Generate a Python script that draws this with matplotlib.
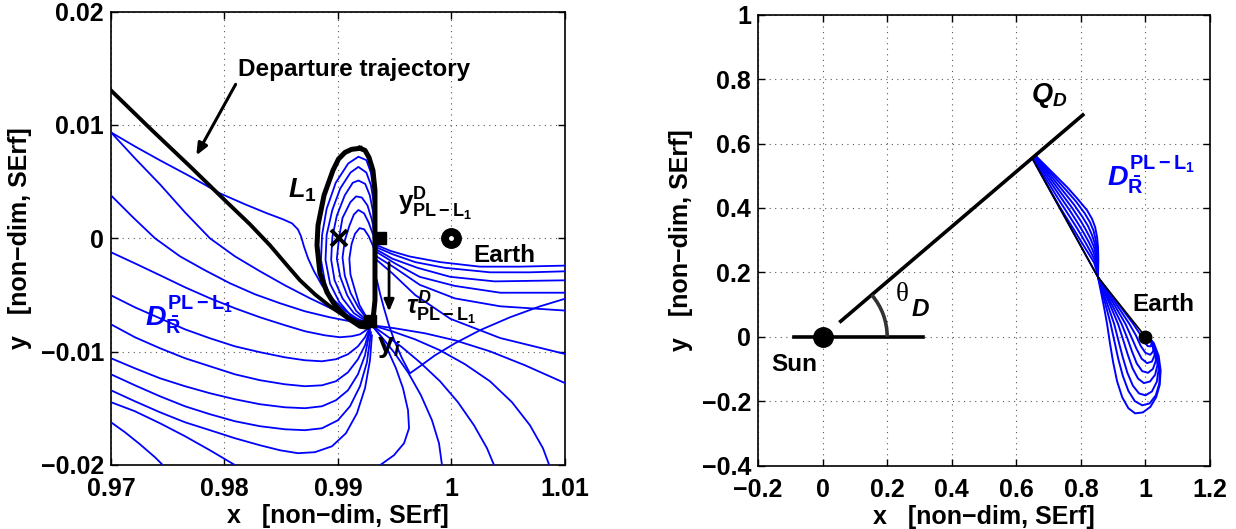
import matplotlib
matplotlib.use("Agg")
import matplotlib.pyplot as plt
from matplotlib.patches import Arc

# ---------------- left panel data (x, y in non-dim SErf) ----------------
left_xticks = [0.97, 0.98, 0.99, 1.00, 1.01]
left_xlabels = ["0.97", "0.98", "0.99", "1", "1.01"]
left_yticks = [-0.02, -0.01, 0.0, 0.01, 0.02]
left_ylabels = ["\u22120.02", "\u22120.01", "0", "0.01", "0.02"]

orbit_x = [0.99194, 0.99120, 0.99062, 0.99005, 0.98956, 0.98877, 0.98824, 0.98815, 0.98841,
           0.98903, 0.98973, 0.99088, 0.99194, 0.99264, 0.99308, 0.99326, 0.99326, 0.99326,
           0.99326, 0.99308, 0.99273, 0.99238, 0.99194]
orbit_y = [0.00794, 0.00785, 0.00758, 0.00700, 0.0060, 0.00379, 0.00115, -0.00062, -0.00309,
           -0.00476, -0.00591, -0.00705, -0.00776, -0.00785, -0.00723, -0.00547, -0.00194,
           0.00159, 0.00423, 0.0060, 0.00714, 0.00776, 0.00794]

dep_x = [0.97000, 0.97344, 0.97696, 0.98004, 0.98225, 0.98401, 0.98551, 0.98665, 0.98797,
         0.98929, 0.99062, 0.99176, 0.99282]
dep_y = [0.01305, 0.00970, 0.00635, 0.00335, 0.00123, -0.00062, -0.00238, -0.00370, -0.00494,
         -0.00600, -0.00688, -0.00741, -0.00741]

# nested loops inside the orbit, continuing out towards Earth
inner_loops = [
    ([0.9926, 0.9911, 0.9897, 0.9889, 0.9885, 0.9886, 0.9890, 0.9898, 0.9909, 0.9918, 0.9925,
      0.9929, 0.9932, 0.9933, 0.9934, 0.9946, 0.9963, 0.9990, 1.0025, 1.0060, 1.0104],
     [-0.0075, -0.0071, -0.0059, -0.0041, -0.0019, 0.0003, 0.0026, 0.0049, 0.0066, 0.0072, 0.0069,
      0.0058, 0.0038, 0.0011, -0.0006, -0.0011, -0.0016, -0.0021, -0.0025, -0.0025, -0.0024]),
    ([0.9926, 0.9912, 0.9901, 0.9893, 0.9889, 0.9890, 0.9895, 0.9902, 0.9911, 0.9918, 0.9925,
      0.9929, 0.9932, 0.9933, 0.9934, 0.9948, 0.9968, 0.9994, 1.0034, 1.0069, 1.0104],
     [-0.0075, -0.0069, -0.0056, -0.0040, -0.0019, 0.0003, 0.0025, 0.0044, 0.0058, 0.0063, 0.0058,
      0.0047, 0.0029, 0.0007, -0.0008, -0.0014, -0.0021, -0.0026, -0.0030, -0.0030, -0.0029]),
    ([0.9926, 0.9914, 0.9904, 0.9897, 0.9894, 0.9895, 0.9899, 0.9906, 0.9913, 0.9918, 0.9924,
      0.9928, 0.9931, 0.9933, 0.9934, 0.9948, 0.9970, 0.9999, 1.0038, 1.0104],
     [-0.0074, -0.0066, -0.0053, -0.0037, -0.0019, 0.0001, 0.0020, 0.0038, 0.0049, 0.0051, 0.0048,
      0.0038, 0.0023, 0.0003, -0.0010, -0.0018, -0.0026, -0.0034, -0.0038, -0.0037]),
    ([0.9926, 0.9916, 0.9908, 0.9902, 0.9899, 0.9901, 0.9904, 0.9911, 0.9916, 0.9921, 0.9926,
      0.9930, 0.9933, 0.9934, 0.9950, 0.9972, 1.0003, 1.0043, 1.0104],
     [-0.0073, -0.0064, -0.0050, -0.0034, -0.0018, 0.0001, 0.0018, 0.0032, 0.0037, 0.0036, 0.0029,
      0.0016, 0.0000, -0.0012, -0.0022, -0.0034, -0.0042, -0.0048, -0.0048]),
    ([0.9926, 0.9918, 0.9911, 0.9906, 0.9904, 0.9906, 0.9910, 0.9914, 0.9918, 0.9923, 0.9927,
      0.9931, 0.9933, 0.9934, 0.9950, 0.9972, 1.0003, 1.0043, 1.0104],
     [-0.0072, -0.0061, -0.0048, -0.0033, -0.0017, -0.0002, 0.0011, 0.0021, 0.0025, 0.0022, 0.0014,
      0.0003, -0.0009, -0.0016, -0.0026, -0.0041, -0.0053, -0.0060, -0.0064]),
    ([0.9926, 0.9919, 0.9915, 0.9911, 0.9910, 0.9912, 0.9915, 0.9919, 0.9923, 0.9927, 0.9931,
      0.9933, 0.9934, 0.9948, 0.9968, 0.9999, 1.0043, 1.0104],
     [-0.0071, -0.0059, -0.0046, -0.0032, -0.0018, -0.0005, 0.0004, 0.0009, 0.0008, 0.0002, -0.0007,
      -0.0015, -0.0019, -0.0031, -0.0050, -0.0071, -0.0088, -0.0103]),
]

# branches arriving at the orbit from the upper left
upper_arrivals = [
    ([0.97000, 0.97211, 0.97432, 0.97696, 0.97960, 0.98181, 0.98374, 0.98515, 0.98595, 0.98647,
      0.98674, 0.98700, 0.98736, 0.98789, 0.98859, 0.98956, 0.99070, 0.99176, 0.99282],
     [0.00935, 0.00811, 0.00688, 0.00547, 0.00397, 0.00300, 0.00221, 0.00168, 0.00132, 0.00079,
      0.00018, -0.00071, -0.00176, -0.00291, -0.00415, -0.00538, -0.00644, -0.00714, -0.00759]),
    ([0.97000, 0.97211, 0.97432, 0.97652, 0.97872, 0.98092, 0.98313, 0.98533, 0.98753, 0.98974,
      0.99150, 0.99282],
     [0.00935, 0.00706, 0.00476, 0.00229, 0.00000, -0.00159, -0.00291, -0.00415, -0.00529, -0.00635,
      -0.00706, -0.00759]),
    ([0.97000, 0.97194, 0.97388, 0.97608, 0.97828, 0.98049, 0.98269, 0.98489, 0.98709, 0.98929,
      0.99106, 0.99282],
     [0.00379, 0.00185, 0.00000, -0.00159, -0.00282, -0.00397, -0.00494, -0.00573, -0.00644, -0.00697,
      -0.00732, -0.00767]),
]

# bowl-shaped branches coming in from the lower left
bowl_x_a = [0.97000, 0.97211, 0.97432, 0.97652, 0.97872, 0.98092, 0.98313, 0.98533, 0.98709,
            0.98885, 0.99017, 0.99123, 0.99194, 0.99247, 0.99282]
bowl_x_b = [0.97000, 0.97211, 0.97432, 0.97652, 0.97872, 0.98092, 0.98313, 0.98533, 0.98709,
            0.98859, 0.98982, 0.99088, 0.99176, 0.99238, 0.99282]
bowl_x_c = [0.97000, 0.97211, 0.97432, 0.97652, 0.97872, 0.98092, 0.98313, 0.98533, 0.98709,
            0.98859, 0.99000, 0.99106, 0.99194, 0.99255, 0.99291]
bowl_x_d = [0.97000, 0.97211, 0.97432, 0.97652, 0.97872, 0.98092, 0.98313, 0.98489, 0.98647,
            0.98797, 0.98947, 0.99070, 0.99167, 0.99238, 0.99282, 0.99299]
bowls = [
    (bowl_x_a, [-0.00123, -0.00221, -0.00326, -0.00432, -0.00529, -0.00617, -0.00697, -0.00767,
                -0.00820, -0.00856, -0.00873, -0.00864, -0.00847, -0.00811, -0.00776]),
    (bowl_x_b, [-0.00503, -0.00609, -0.00706, -0.00803, -0.00882, -0.00953, -0.01005, -0.01050,
                -0.01076, -0.01085, -0.01067, -0.01023, -0.00953, -0.00873, -0.00785]),
    (bowl_x_b, [-0.00759, -0.00873, -0.00970, -0.01058, -0.01129, -0.01200, -0.01252, -0.01288,
                -0.01305, -0.01297, -0.01261, -0.01182, -0.01067, -0.00944, -0.00794]),
    (bowl_x_b, [-0.01058, -0.01147, -0.01235, -0.01305, -0.01367, -0.01420, -0.01464, -0.01491,
                -0.01499, -0.01482, -0.01429, -0.01341, -0.01200, -0.01032, -0.00811]),
    (bowl_x_c, [-0.01200, -0.01297, -0.01394, -0.01482, -0.01552, -0.01614, -0.01658, -0.01685,
                -0.01693, -0.01676, -0.01605, -0.01482, -0.01305, -0.01094, -0.00829]),
    (bowl_x_d, [-0.01341, -0.01438, -0.01535, -0.01623, -0.01693, -0.01764, -0.01826, -0.01870,
                -0.01896, -0.01887, -0.01835, -0.01720, -0.01544, -0.01323, -0.01076, -0.00856]),
]

# two short branches in the lower left corner
corner_branches = [
    ([0.97000, 0.97211, 0.97432, 0.97652, 0.97872, 0.98110],
     [-0.01446, -0.01526, -0.01632, -0.01746, -0.01870, -0.02011]),
    ([0.97000, 0.97123, 0.97255, 0.97388, 0.97485],
     [-0.01623, -0.01711, -0.01817, -0.01932, -0.02029]),
]

# branches leaving the orbit downwards / to the right
lower_exits = [
    ([0.99343, 0.99370, 0.99405, 0.99449, 0.99502, 0.99564, 0.99634, 0.99722, 0.99855, 1.00031,
      1.00251, 1.00515, 1.00780, 1.01044],
     [-0.00370, -0.00485, -0.00617, -0.00767, -0.00917, -0.01058, -0.01191, -0.01129, -0.01032,
      -0.00926, -0.00811, -0.00697, -0.00600, -0.00520]),
    ([0.99299, 0.99370, 0.99440, 0.99511, 0.99573, 0.99617, 0.99626, 0.99582, 0.99493, 0.99370,
      0.99282],
     [-0.00767, -0.00856, -0.00988, -0.01147, -0.01323, -0.01517, -0.01676, -0.01808, -0.01914,
      -0.02002, -0.02064]),
    ([0.99299, 0.99387, 0.99493, 0.99617, 0.99731, 0.99828, 0.99890, 0.99925],
     [-0.00767, -0.00873, -0.01005, -0.01182, -0.01385, -0.01605, -0.01808, -0.02064]),
    ([0.99299, 0.99423, 0.99564, 0.99722, 0.99899, 1.00057, 1.00198, 1.00313, 1.00401],
     [-0.00767, -0.00856, -0.00961, -0.01094, -0.01261, -0.01446, -0.01649, -0.01852, -0.02064]),
    ([0.99299, 0.99476, 0.99678, 0.99899, 1.00119, 1.00339, 1.00533, 1.00691, 1.00806, 1.00885],
     [-0.00767, -0.00820, -0.00891, -0.00988, -0.01111, -0.01261, -0.01446, -0.01649, -0.01852,
      -0.02064]),
    ([0.99299, 0.99502, 0.99766, 1.00031, 1.00339, 1.00647, 1.01044],
     [-0.00767, -0.00794, -0.00838, -0.00900, -0.00997, -0.01120, -0.01297]),
]

l1_point = (0.9901, 0.0)
earth_left = (1.0, 0.0)
square_pts_x = [0.9937, 0.9928]
square_pts_y = [0.0, -0.0073]

# ---------------- right panel data ----------------
right_xticks = [-0.2, 0.0, 0.2, 0.4, 0.6, 0.8, 1.0, 1.2]
right_xlabels = ["\u22120.2", "0", "0.2", "0.4", "0.6", "0.8", "1", "1.2"]
right_yticks = [-0.4, -0.2, 0.0, 0.2, 0.4, 0.6, 0.8, 1.0]
right_ylabels = ["\u22120.4", "\u22120.2", "0", "0.2", "0.4", "0.6", "0.8", "1"]

sun_pos = (0.0, 0.0)
earth_right = (1.0, 0.0)
base_line_x = [-0.09, 0.31]
q_line_x = [0.056, 0.806]
q_line_y = [0.048, 0.689]
theta_deg = 40.5
arc_radius = 0.2

# bundle from the Q_D line down to the pinch point
bundle_upper = [
    ([0.651, 0.700, 0.750, 0.800, 0.853], [0.551, 0.462, 0.372, 0.281, 0.185]),
    ([0.653, 0.690, 0.727, 0.755, 0.779, 0.797, 0.814, 0.829, 0.841, 0.848, 0.853],
     [0.552, 0.482, 0.416, 0.370, 0.332, 0.302, 0.274, 0.250, 0.230, 0.207, 0.185]),
    ([0.655, 0.694, 0.732, 0.761, 0.785, 0.803, 0.819, 0.832, 0.843, 0.849, 0.853],
     [0.553, 0.487, 0.425, 0.380, 0.342, 0.312, 0.284, 0.260, 0.238, 0.212, 0.185]),
    ([0.657, 0.698, 0.737, 0.767, 0.791, 0.809, 0.824, 0.836, 0.845, 0.850, 0.853],
     [0.554, 0.492, 0.434, 0.390, 0.352, 0.322, 0.295, 0.270, 0.246, 0.217, 0.185]),
    ([0.659, 0.701, 0.742, 0.773, 0.798, 0.815, 0.829, 0.840, 0.847, 0.851, 0.853],
     [0.555, 0.498, 0.442, 0.400, 0.362, 0.333, 0.306, 0.280, 0.254, 0.222, 0.185]),
    ([0.661, 0.704, 0.747, 0.779, 0.805, 0.822, 0.834, 0.843, 0.849, 0.852, 0.853],
     [0.556, 0.503, 0.450, 0.410, 0.372, 0.344, 0.317, 0.290, 0.262, 0.228, 0.185]),
    ([0.662, 0.707, 0.752, 0.785, 0.812, 0.828, 0.839, 0.846, 0.851, 0.853, 0.853],
     [0.557, 0.508, 0.458, 0.420, 0.383, 0.356, 0.330, 0.300, 0.270, 0.235, 0.185]),
    ([0.664, 0.710, 0.757, 0.790, 0.819, 0.834, 0.844, 0.850, 0.853, 0.854, 0.853],
     [0.558, 0.512, 0.465, 0.428, 0.393, 0.367, 0.341, 0.310, 0.279, 0.240, 0.185]),
]
# loops around the Earth after the pinch point
bundle_lower = [
    ([0.887, 0.925, 0.962, 0.982, 0.995, 1.007, 1.017, 1.019, 1.012, 1.002],
     [0.140, 0.090, 0.040, 0.010, -0.014, -0.029, -0.030, -0.016, -0.004, 0.000]),
    ([0.883, 0.917, 0.950, 0.970, 0.985, 1.000, 1.015, 1.024, 1.023, 1.013, 1.003],
     [0.140, 0.090, 0.040, 0.005, -0.028, -0.050, -0.056, -0.045, -0.025, -0.007, 0.000]),
    ([0.879, 0.909, 0.938, 0.956, 0.972, 0.988, 1.005, 1.020, 1.028, 1.027, 1.018, 1.005],
     [0.140, 0.090, 0.040, 0.000, -0.037, -0.068, -0.082, -0.077, -0.058, -0.035, -0.012, -0.001]),
    ([0.875, 0.901, 0.926, 0.944, 0.958, 0.973, 0.990, 1.008, 1.023, 1.032, 1.031, 1.020, 1.006],
     [0.140, 0.090, 0.040, -0.005, -0.045, -0.083, -0.107, -0.112, -0.100, -0.075, -0.045, -0.016,
      -0.001]),
    ([0.872, 0.894, 0.915, 0.931, 0.945, 0.960, 0.977, 0.995, 1.014, 1.030, 1.037, 1.034, 1.020,
      1.007],
     [0.140, 0.090, 0.040, -0.010, -0.055, -0.098, -0.130, -0.144, -0.139, -0.118, -0.088, -0.052,
      -0.018, -0.002]),
    ([0.868, 0.886, 0.903, 0.917, 0.930, 0.944, 0.961, 0.980, 1.000, 1.020, 1.035, 1.041, 1.037,
      1.022, 1.008],
     [0.140, 0.090, 0.040, -0.015, -0.065, -0.112, -0.152, -0.176, -0.182, -0.170, -0.140, -0.100,
      -0.055, -0.018, -0.002]),
    ([0.865, 0.879, 0.892, 0.904, 0.916, 0.930, 0.947, 0.967, 0.990, 1.013, 1.032, 1.043, 1.044,
      1.035, 1.021, 1.009],
     [0.140, 0.090, 0.040, -0.015, -0.070, -0.122, -0.168, -0.200, -0.213, -0.207, -0.182, -0.145,
      -0.100, -0.055, -0.018, -0.002]),
    ([0.862, 0.872, 0.881, 0.890, 0.900, 0.912, 0.928, 0.947, 0.968, 0.992, 1.015, 1.033, 1.044,
      1.047, 1.041, 1.026, 1.011],
     [0.140, 0.090, 0.040, -0.020, -0.080, -0.138, -0.188, -0.222, -0.238, -0.235, -0.218, -0.188,
      -0.150, -0.105, -0.060, -0.020, -0.003]),
]
dep_right_x = [0.651, 0.750, 0.853, 0.930, 0.995]
dep_right_y = [0.551, 0.372, 0.185, 0.088, 0.006]

BLUE = "#0000ff"
FS = 18
TXT = 17.5

plt.rcParams["font.family"] = ["Liberation Sans", "DejaVu Sans"]
plt.rcParams["font.weight"] = "bold"
plt.rcParams["mathtext.fontset"] = "custom"
plt.rcParams["mathtext.rm"] = "Liberation Sans:bold"
plt.rcParams["mathtext.bf"] = "Liberation Sans:bold"
plt.rcParams["mathtext.it"] = "Liberation Sans:italic:bold"
plt.rcParams["mathtext.bfit"] = "Liberation Sans:italic:bold"


def style_axes(ax):
    ax.grid(True, linestyle=(0, (1, 4)), color="0.35", linewidth=0.8)
    ax.set_axisbelow(True)
    ax.tick_params(direction="in", top=True, right=True, length=5, width=1,
                   labelsize=FS)
    ax.tick_params(axis="x", pad=9)
    ax.tick_params(axis="y", pad=5)
    for sp in ax.spines.values():
        sp.set_linewidth(1.2)
    for lab in ax.get_xticklabels() + ax.get_yticklabels():
        lab.set_fontweight("bold")


fig = plt.figure(figsize=(12.36, 5.29), dpi=100)
ax1 = fig.add_axes([0.0898, 0.121, 0.3673, 0.857])
ax2 = fig.add_axes([0.6133, 0.120, 0.3657, 0.852])

# ---------------- left panel ----------------
for xs, ys in inner_loops + upper_arrivals + bowls + corner_branches + lower_exits:
    ax1.plot(xs, ys, color=BLUE, lw=1.3, zorder=3, solid_joinstyle="round")
ax1.plot(dep_x, dep_y, color="black", lw=2.8, zorder=4, solid_joinstyle="round")
ax1.plot(orbit_x, orbit_y, color="black", lw=3.6, zorder=4, solid_joinstyle="round")
ax1.plot(*l1_point, marker="x", color="black", ms=11, mew=2.8, zorder=6)
ax1.plot(square_pts_x, square_pts_y, "s", color="black", ms=9, zorder=6)
ax1.plot(*earth_left, "o", color="black", ms=14, zorder=6)
ax1.plot(*earth_left, "o", color="white", ms=2.5, zorder=7)

ax1.annotate("", xy=(0.9774, 0.0071), xytext=(0.9811, 0.0138),
             arrowprops=dict(arrowstyle="-|>,head_length=0.7,head_width=0.3",
                             color="black", lw=2.2))
ax1.text(0.9812, 0.0149, "Departure trajectory", fontsize=TXT, fontweight="bold",
         va="center", ha="left")
ax1.text(0.9856, 0.0042, r"$L_1$", fontsize=TXT + 2, va="center", ha="left")
ax1.text(0.9953, 0.0030, r"$\mathrm{y^{D}_{PL-L_1}}$", fontsize=TXT + 1, va="center", ha="left")
ax1.text(1.0019, -0.0015, "Earth", fontsize=TXT, fontweight="bold", va="center", ha="left")
ax1.annotate("", xy=(0.9945, -0.0067), xytext=(0.9945, -0.0019),
             arrowprops=dict(arrowstyle="-|>,head_length=0.7,head_width=0.3",
                             color="black", lw=2.0))
ax1.text(0.9960, -0.0062, r"$\tau^{D}_{\mathrm{PL-L_1}}$", fontsize=TXT + 1,
         va="center", ha="left")
ax1.text(0.9934, -0.0096, r"$\mathrm{y}_{i}$", fontsize=TXT + 3, va="center", ha="left")
ax1.text(0.9730, -0.0068, r"$D^{\mathrm{PL-L_1}}_{\bar{\mathrm{R}}}$", fontsize=TXT + 3,
         color=BLUE, va="center", ha="left")

ax1.set_xlim(0.97, 1.01)
ax1.set_ylim(-0.02, 0.02)
ax1.set_xticks(left_xticks)
ax1.set_xticklabels(left_xlabels)
ax1.set_yticks(left_yticks)
ax1.set_yticklabels(left_ylabels)
ax1.set_xlabel("x   [non\u2212dim, SErf]", fontsize=FS, fontweight="bold", labelpad=2)
ax1.set_ylabel("y   [non\u2212dim, SErf]", fontsize=FS, fontweight="bold", labelpad=6)
style_axes(ax1)

# ---------------- right panel ----------------
for (ux, uy), (lx, ly) in zip(bundle_upper, bundle_lower):
    ax2.plot(ux + lx, uy + ly, color=BLUE, lw=1.4, zorder=3, solid_joinstyle="round")
ax2.plot(dep_right_x, dep_right_y, color="black", lw=1.2, zorder=4)
ax2.plot(base_line_x, [0, 0], color="black", lw=2.6, zorder=4)
ax2.plot(q_line_x, q_line_y, color="black", lw=2.6, zorder=4)
ax2.add_patch(Arc(sun_pos, 2 * arc_radius, 2 * arc_radius, theta1=0, theta2=theta_deg,
                  color="0.2", lw=2.6, zorder=4))
ax2.plot(*sun_pos, "o", color="black", ms=14, zorder=6)
ax2.plot(*earth_right, "o", color="black", ms=9, zorder=6)

ax2.text(-0.16, -0.085, "Sun", fontsize=TXT, fontweight="bold", va="center", ha="left")
ax2.text(0.96, 0.10, "Earth", fontsize=TXT, fontweight="bold", va="center", ha="left")
ax2.text(0.645, 0.75, r"$Q_D$", fontsize=TXT + 2, va="center", ha="left")
ax2.text(0.88, 0.50, r"$D^{\mathrm{PL-L_1}}_{\bar{\mathrm{R}}}$", fontsize=TXT + 3,
         color=BLUE, va="center", ha="left")
ax2.text(0.225, 0.13, "\u03b8", fontsize=TXT + 2, family="Liberation Serif",
         fontweight="normal", va="center", ha="left")
ax2.text(0.275, 0.085, "D", fontsize=TXT, fontstyle="italic", fontweight="bold",
         va="center", ha="left")

ax2.set_xlim(-0.2, 1.2)
ax2.set_ylim(-0.4, 1.0)
ax2.set_xticks(right_xticks)
ax2.set_xticklabels(right_xlabels)
ax2.set_yticks(right_yticks)
ax2.set_yticklabels(right_ylabels)
ax2.set_xlabel("x   [non\u2212dim, SErf]", fontsize=FS, fontweight="bold", labelpad=2)
ax2.set_ylabel("y   [non\u2212dim, SErf]", fontsize=FS, fontweight="bold", labelpad=6)
style_axes(ax2)

fig.savefig("out.png", dpi=100)
